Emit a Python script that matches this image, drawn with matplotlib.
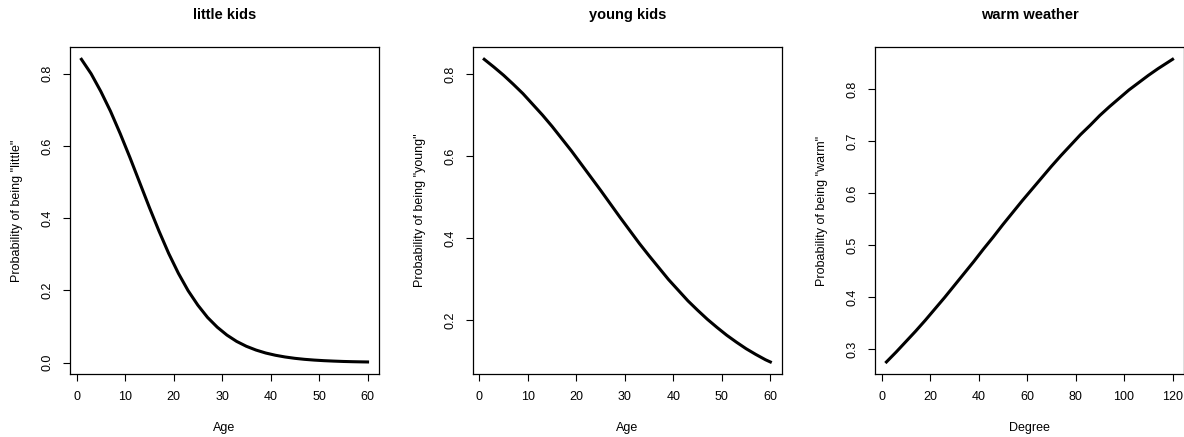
import numpy as np
import matplotlib
matplotlib.use('Agg')
import matplotlib.pyplot as plt

plt.rcParams['font.family'] = ['Liberation Sans', 'DejaVu Sans']

# little kids: probability vs age
age_little = [1, 3, 5, 7, 9, 11, 13, 15, 17, 19, 21, 23, 25, 27, 29, 31, 33, 35, 37, 39,
              41, 43, 45, 47, 49, 51, 53, 55, 57, 59, 60]
p_little = [0.840, 0.800, 0.751, 0.696, 0.634, 0.568, 0.499, 0.430, 0.364, 0.302, 0.247,
            0.199, 0.159, 0.125, 0.098, 0.076, 0.0585, 0.045, 0.0345, 0.0263, 0.0201,
            0.0153, 0.0116, 0.0088, 0.0067, 0.0051, 0.0039, 0.0029, 0.0022, 0.0017, 0.0015]

# young kids: probability vs age
age_young = age_little
p_young = [0.837, 0.818, 0.798, 0.776, 0.753, 0.727, 0.701, 0.673, 0.643, 0.613, 0.581,
           0.549, 0.517, 0.484, 0.451, 0.419, 0.387, 0.357, 0.328, 0.299, 0.273, 0.247,
           0.224, 0.202, 0.182, 0.163, 0.146, 0.130, 0.116, 0.103, 0.0976]

# warm weather: probability vs degree
degree = [2, 6, 10, 14, 18, 22, 26, 30, 34, 38, 42, 46, 50, 54, 58, 62, 66, 70, 74, 78,
          82, 86, 90, 94, 98, 102, 106, 110, 114, 118, 120]
p_warm = [0.276, 0.295, 0.315, 0.335, 0.356, 0.378, 0.400, 0.423, 0.446, 0.469, 0.493,
          0.516, 0.540, 0.563, 0.586, 0.608, 0.630, 0.652, 0.673, 0.693, 0.713, 0.731,
          0.750, 0.767, 0.783, 0.799, 0.813, 0.827, 0.840, 0.852, 0.858]

panels = [
    ('little kids', age_little, p_little, 'Age', 'Probability of being "little"',
     [0, 10, 20, 30, 40, 50, 60], [0.0, 0.2, 0.4, 0.6, 0.8]),
    ('young kids', age_young, p_young, 'Age', 'Probability of being "young"',
     [0, 10, 20, 30, 40, 50, 60], [0.2, 0.4, 0.6, 0.8]),
    ('warm weather', degree, p_warm, 'Degree', 'Probability of being "warm"',
     [0, 20, 40, 60, 80, 100, 120], [0.3, 0.4, 0.5, 0.6, 0.7, 0.8]),
]

fig = plt.figure(figsize=(11.84, 4.37), dpi=100)
lefts = [0.0591, 0.3993, 0.739]

for left, (title, x, y, xlab, ylab, xt, yt) in zip(lefts, panels):
    ax = fig.add_axes([left, 0.144, 0.261, 0.748])
    ax.plot(x, y, color='black', lw=2.2, solid_joinstyle='round')
    ax.margins(0.04)
    ax.set_xticks(xt)
    ax.set_yticks(yt)
    ax.set_yticklabels(['{:.1f}'.format(v) for v in yt], rotation=90, va='center')
    ax.tick_params(direction='out', length=5, width=0.8, labelsize=9, pad=7)
    for s in ax.spines.values():
        s.set_linewidth(0.9)
    ax.text(0.5, 1.098, title, transform=ax.transAxes, ha='center', va='center',
            fontsize=10.5, fontweight='bold')
    ax.text(0.5, -0.165, xlab, transform=ax.transAxes, ha='center', va='center',
            fontsize=9)
    ax.text(-0.172, 0.5, ylab, transform=ax.transAxes, ha='center', va='center',
            rotation=90, fontsize=9)

fig.savefig('out.png', dpi=100)
